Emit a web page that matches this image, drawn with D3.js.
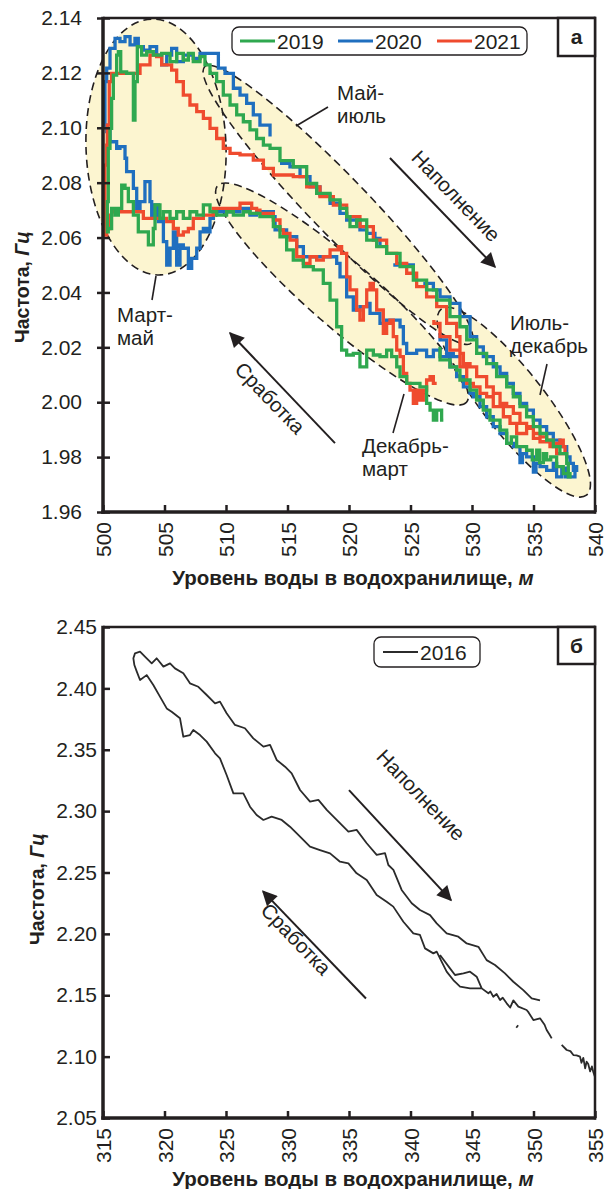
<!DOCTYPE html>
<html><head><meta charset="utf-8">
<script src="https://cdn.jsdelivr.net/npm/d3@7"></script>
<style>
body{margin:0;background:#fff;}
svg{display:block;}
</style></head><body>
<svg id="chart" width="606" height="1189"></svg>
<script>
// ---------------- DATA ----------------
const yearsA = ["2019", "2020", "2021"];
const yearB = "2016";
const xTicksA = [500, 505, 510, 515, 520, 525, 530, 535, 540];
const yTicksA = [1.96, 1.98, 2.00, 2.02, 2.04, 2.06, 2.08, 2.10, 2.12, 2.14];
const xTicksB = [315, 320, 325, 330, 335, 340, 345, 350, 355];
const yTicksB = [2.05, 2.10, 2.15, 2.20, 2.25, 2.30, 2.35, 2.40, 2.45];

// [water level (m), frequency (Hz)]; null = gap in record
const series2019 = [
[527.67,1.9935],[527.53,1.9971],[527.13,1.9935],[526.86,1.9971],[526.59,1.9996],[526.31,2.0056],[525.77,2.0069],[525.23,2.0069],[524.69,2.0093],[524.15,2.0129],[523.88,2.0166],[523.47,2.0190],[523.06,2.0166],[522.52,2.0172],[521.98,2.0190],[521.44,2.0129],[520.89,2.0178],[520.35,2.0172],[519.81,2.0190],[519.40,2.0275],[519.00,2.0372],[518.46,2.0433],[517.91,2.0482],[517.10,2.0494],[516.29,2.0518],[515.47,2.0555],[514.93,2.0603],[514.39,2.0640],[513.85,2.0676],[512.76,2.0688],[511.95,2.0694],[511.41,2.0682],[510.60,2.0694],[510.05,2.0682],[509.24,2.0694],[508.70,2.0719],[508.16,2.0682],[507.62,2.0694],[507.07,2.0670],[506.53,2.0694],[505.99,2.0670],[505.45,2.0694],[504.91,2.0670],[504.63,2.0719],[504.23,2.0633],[504.09,2.0573],[503.69,2.0621],[503.28,2.0621],[502.87,2.0682],[502.47,2.0731],[502.06,2.0779],[501.79,2.0791],[501.52,2.0706],[501.25,2.0682],[500.98,2.0706],[500.70,2.0633],[500.43,2.0621],[500.35,2.0731],[500.43,2.0925],[500.57,2.0998],[500.70,2.1107],[500.84,2.1192],[501.11,2.1265],[501.25,2.1277],[501.44,2.1204],[501.92,2.1198],[502.33,2.1198],[502.47,2.1028],[502.60,2.1168],[502.79,2.1296],[503.14,2.1265],[503.55,2.1277],[504.09,2.1265],[504.77,2.1271],[505.45,2.1241],[505.99,2.1271],[506.53,2.1247],[506.94,2.1271],[507.34,2.1241],[507.89,2.1259],[508.29,2.1229],[508.70,2.1198],[509.24,2.1168],[509.78,2.1119],[510.33,2.1083],[510.87,2.1047],[511.41,2.1022],[511.95,2.0992],[512.49,2.0961],[513.04,2.0937],[513.58,2.0925],[514.39,2.0880],[515.47,2.0858],[516.56,2.0797],[517.37,2.0761],[518.46,2.0737],[519.27,2.0706],[519.81,2.0676],[520.08,2.0640],[520.62,2.0664],[521.44,2.0591],[522.25,2.0567],[523.06,2.0542],[524.15,2.0494],[525.23,2.0445],[526.31,2.0409],[527.13,2.0372],[528.21,2.0312],[529.02,2.0275],[529.57,2.0227],[530.38,2.0178],[531.19,2.0141],[532.00,2.0093],[532.82,2.0056],[533.36,2.0020],[533.90,1.9984],[534.44,1.9947],[534.99,1.9911],[535.53,1.9886],[536.07,1.9862],[536.61,1.9838],[537.15,1.9813],[537.70,1.9777],[537.83,1.9728],[537.97,1.9740],[537.42,1.9765],[536.88,1.9801],[536.40,1.9790],[536.07,1.9813],[535.80,1.9780],[535.50,1.9825],[535.26,1.9790],[534.90,1.9825],[534.44,1.9838],[533.63,1.9874],[533.20,1.9850],[532.82,1.9898],[532.28,1.9935],[531.46,1.9971],[530.92,2.0008],[530.38,2.0044],[529.84,2.0081],[529.02,2.0117],[528.75,2.0129],[528.21,2.0154],[527.40,2.0202]
];

const series2020 = [
[529.02,2.0166],[528.48,2.0178],[527.94,2.0166],[527.40,2.0190],[526.86,2.0166],[526.31,2.0190],[525.50,2.0178],[524.69,2.0214],[524.42,2.0275],[524.15,2.0299],[523.06,2.0287],[522.52,2.0324],[521.71,2.0360],[521.44,2.0348],[520.89,2.0336],[520.35,2.0384],[519.81,2.0457],[519.27,2.0506],[519.00,2.0530],[516.83,2.0530],[516.29,2.0567],[515.75,2.0603],[514.93,2.0628],[514.12,2.0628],[513.99,2.0676],[513.85,2.0694],[512.76,2.0694],[512.49,2.0682],[511.95,2.0706],[511.14,2.0694],[509.24,2.0694],[508.97,2.0670],[508.70,2.0621],[508.43,2.0633],[508.16,2.0621],[507.89,2.0561],[507.62,2.0524],[507.21,2.0488],[506.94,2.0561],[506.53,2.0573],[506.26,2.0500],[505.99,2.0621],[505.72,2.0561],[505.45,2.0500],[505.18,2.0585],[504.91,2.0658],[504.50,2.0719],[504.23,2.0670],[503.96,2.0731],[503.82,2.0804],[503.55,2.0804],[503.41,2.0731],[503.01,2.0706],[502.74,2.0779],[502.47,2.0840],[501.92,2.0889],[501.79,2.0931],[501.38,2.0925],[501.11,2.0949],[500.57,2.0986],[500.30,2.1010],[500.16,2.1168],[500.30,2.1217],[500.57,2.1289],[500.98,2.1326],[501.38,2.1314],[501.79,2.1332],[502.20,2.1302],[502.60,2.1326],[502.87,2.1296],[503.28,2.1283],[503.82,2.1296],[504.36,2.1265],[504.77,2.1229],[505.18,2.1265],[505.58,2.1289],[505.99,2.1241],[506.53,2.1265],[507.34,2.1253],[507.89,2.1271],[508.97,2.1271],[509.38,2.1217],[509.92,2.1198],[510.60,2.1144],[511.14,2.1119],[511.68,2.1089],[512.22,2.1047],[512.76,2.1010],[513.58,2.0968],
null,
[514.39,2.0870],[515.20,2.0858],[516.02,2.0822],[516.83,2.0785],[517.64,2.0755],[518.46,2.0725],[519.27,2.0688],[519.81,2.0664],[520.49,2.0664],[520.89,2.0628],[521.44,2.0615],[522.11,2.0597],[522.52,2.0573],
null,
[523.60,2.0500],[524.69,2.0500],[525.23,2.0470],
null,
[526.04,2.0433],[526.86,2.0409],[527.40,2.0384],[528.21,2.0360],[529.02,2.0312],[529.84,2.0239],[530.38,2.0202],[530.92,2.0166],[531.73,2.0129],[532.28,2.0105],[532.82,2.0069],[533.36,2.0032],[533.90,1.9996],[534.44,1.9971],[534.99,1.9935],[535.53,1.9911],[536.07,1.9886],[536.61,1.9862],[537.15,1.9838],[537.70,1.9801],[537.97,1.9777],[538.24,1.9752],[538.51,1.9765],[538.37,1.9728],[537.60,1.9760],[537.30,1.9728],[536.88,1.9777],[536.61,1.9752],[536.07,1.9765],[535.53,1.9777],[535.20,1.9745],[534.99,1.9801],[534.44,1.9813],[534.10,1.9780],[533.90,1.9838],[533.36,1.9850],[532.82,1.9886],[532.28,1.9911],[531.73,1.9947],[531.19,1.9984],[530.65,2.0020],[530.11,2.0032],[529.84,2.0056],[529.30,2.0093],[528.75,2.0129],[528.21,2.0166],[527.94,2.0227],[527.40,2.0251]
];

const series2021 = [
[527.13,2.0069],[526.86,2.0093],[526.59,2.0081],[526.31,2.0044],[526.04,2.0008],[525.77,2.0044],[525.50,1.9996],[525.23,2.0044],[524.96,2.0069],[524.69,2.0105],[524.42,2.0166],[524.15,2.0190],[523.88,2.0239],[523.60,2.0299],[523.33,2.0287],[523.06,2.0251],[522.79,2.0336],[522.25,2.0409],[521.98,2.0433],[521.71,2.0409],[521.44,2.0348],[521.17,2.0299],[520.89,2.0336],[520.62,2.0409],[520.08,2.0457],[519.81,2.0542],[519.40,2.0567],[519.13,2.0555],[518.46,2.0530],[517.91,2.0518],[517.37,2.0530],[516.83,2.0506],[516.29,2.0530],[515.75,2.0591],[515.20,2.0615],[514.66,2.0628],[514.39,2.0664],[513.85,2.0688],[512.76,2.0700],[512.49,2.0706],[512.09,2.0725],[511.41,2.0725],[511.14,2.0706],[509.51,2.0706],[508.97,2.0682],[508.16,2.0670],[507.34,2.0633],[506.94,2.0621],[506.53,2.0609],[506.12,2.0633],[505.72,2.0658],[505.18,2.0670],[504.09,2.0670],[503.28,2.0694],[501.38,2.0694],[500.70,2.0682],[500.57,2.0633],[500.30,2.0609],[500.16,2.0682],[500.16,2.0864],[500.30,2.0937],[500.35,2.1010],[500.51,2.1168],[500.70,2.1198],[502.74,2.1198],[503.01,2.1229],[503.82,2.1265],[504.36,2.1259],[504.77,2.1229],[505.31,2.1229],[505.58,2.1210],[505.99,2.1168],[506.53,2.1119],[507.07,2.1083],[507.62,2.1059],[508.16,2.1034],[508.70,2.0998],[509.24,2.0961],[509.78,2.0925],[510.33,2.0907],[511.14,2.0901],[512.22,2.0882],[513.04,2.0852],[513.85,2.0828],[514.39,2.0828],[515.47,2.0822],[516.56,2.0785],[517.64,2.0749],[518.73,2.0718],[519.81,2.0676],[520.89,2.0640],[521.98,2.0591],[523.06,2.0542],[523.88,2.0506],[524.69,2.0470],[525.50,2.0421],[526.31,2.0384],[527.13,2.0348],[527.94,2.0287],[528.75,2.0239],[529.02,2.0178],[529.30,2.0141],[529.84,2.0129],[530.38,2.0093],[531.19,2.0056],[531.73,2.0032],[532.28,1.9996],[532.82,1.9984],[533.36,1.9959],[533.90,1.9923],[534.44,1.9911],[534.99,1.9886],[535.53,1.9874],[536.07,1.9862],[536.61,1.9850],[537.15,1.9862],[537.42,1.9838],[537.56,1.9813],[536.88,1.9838],[536.34,1.9856],[535.53,1.9868],[534.99,1.9905],[534.44,1.9886],[533.63,1.9923],[533.09,1.9947],[532.55,1.9984],[531.73,2.0020],[531.19,2.0032],[530.65,2.0056],[530.11,2.0069],[529.57,2.0129],[529.02,2.0190],[528.21,2.0239],[527.40,2.0287],[526.90,2.0300]
];

const series2016 = [
[355.00,2.0834],[354.86,2.0875],[354.75,2.0920],[354.60,2.0880],[354.45,2.0940],[354.32,2.0959],[354.20,2.0905],[354.05,2.0990],[353.90,2.0950],[353.78,2.1000],[353.50,2.1010],[353.24,2.1013],[353.00,2.1045],[352.70,2.1054],[352.29,2.1095],
null,
[351.48,2.1149],[351.30,2.1180],[351.07,2.1217],[350.90,2.1260],[350.53,2.1312],[349.99,2.1298],[349.60,2.1360],[349.44,2.1380],[348.77,2.1407],[348.36,2.1458],[348.10,2.1400],[347.82,2.1434],[347.50,2.1480],[347.28,2.1461],[347.00,2.1510],[346.73,2.1488],[346.50,2.1530],[346.33,2.1516],[345.79,2.1556],[344.84,2.1556],[344.03,2.1570],[343.48,2.1624],[342.94,2.1692],[342.53,2.1774],[342.13,2.1855],[341.86,2.1841],[341.18,2.1882],[340.77,2.1991],[340.23,2.2004],[339.42,2.2099],[338.60,2.2222],[338.06,2.2262],[337.25,2.2317],[336.44,2.2439],[335.62,2.2493],[334.95,2.2574],[334.27,2.2588],[333.46,2.2656],[332.64,2.2683],[331.83,2.2710],[331.02,2.2792],[330.20,2.2873],[329.53,2.2928],[328.71,2.2955],[328.04,2.2928],[327.49,2.2968],[326.95,2.3036],[326.41,2.3145],[325.60,2.3145],[325.05,2.3294],[324.51,2.3430],[324.11,2.3471],[323.43,2.3566],[322.89,2.3620],[322.34,2.3661],[322.07,2.3620],[321.53,2.3606],[321.26,2.3756],[320.58,2.3810],[320.18,2.3837],[319.63,2.3933],[319.09,2.4027],[318.55,2.4108],[318.01,2.4068],[317.74,2.4139],[317.55,2.4190],[317.47,2.4245],[317.60,2.4285],[318.01,2.4299],[318.41,2.4258],[318.96,2.4204],[319.36,2.4245],[319.91,2.4177],[320.45,2.4204],[320.85,2.4163],[321.53,2.4123],[322.07,2.4041],[322.75,2.4013],[323.43,2.3946],[324.11,2.3878],[324.51,2.3892],[325.05,2.3797],[325.73,2.3702],[326.54,2.3675],[327.22,2.3593],[328.04,2.3525],[328.58,2.3539],[329.12,2.3417],[329.80,2.3362],[330.34,2.3308],[331.02,2.3172],[331.83,2.3078],[332.51,2.3092],[333.19,2.3010],[334.00,2.2928],[334.95,2.2833],[335.62,2.2847],[336.44,2.2738],[337.25,2.2643],[337.93,2.2657],[338.20,2.2561],[338.61,2.2521],[339.28,2.2358],[340.10,2.2249],[340.77,2.2194],[341.59,2.2153],[342.13,2.2086],[342.94,2.2004],[343.89,2.1977],[344.57,2.1922],[345.52,2.1895],[346.19,2.1786],[346.87,2.1746],[347.68,2.1678],[348.36,2.1610],[349.17,2.1542],[349.85,2.1474],[350.53,2.1458],
null,
[342.40,2.1828],[343.21,2.1719],[343.62,2.1665],[344.30,2.1678],[344.84,2.1692],[345.38,2.1651],[345.79,2.1556],
null,
[348.60,2.1235],[348.75,2.1255]
];

// ---------------- STYLE / LAYOUT ----------------
const FONT = '"Liberation Sans", Arial, Helvetica, sans-serif';
const INK = "#231f20";
const colorsA = {"2019": "#2fa84f", "2020": "#1f6fbf", "2021": "#ef4b2e"};
const seriesA = {"2019": series2019, "2020": series2020, "2021": series2021};
const FILL = "#fcf5d0";

const svg = d3.select("#chart").style("font-family", FONT);
svg.append("rect").attr("width", 606).attr("height", 1189).attr("fill", "#fff");

const defs = svg.append("defs");
defs.append("marker").attr("id", "ah").attr("viewBox", "0 0 10 10")
  .attr("refX", 9).attr("refY", 5).attr("markerUnits", "userSpaceOnUse")
  .attr("markerWidth", 20).attr("markerHeight", 15).attr("orient", "auto")
  .append("path").attr("d", "M0,0 L10,5 L0,10 Z").attr("fill", INK);

function drawAxes(g, x, y, xt, yt, o) {
  const [x0, x1] = x.range();
  const [yb, yt0] = y.range();
  const ga = g.append("g").attr("transform", `translate(${x0},0)`)
    .call(d3.axisLeft(y).tickValues(yt).tickFormat(d3.format(".2f")).tickSize(o.yTickOut).tickPadding(o.yPad));
  ga.attr("font-family", FONT).attr("font-size", 21);
  ga.select(".domain").remove();
  ga.selectAll(".tick line").attr("x1", 7).attr("stroke", INK).attr("stroke-width", 2.5);
  ga.selectAll(".tick text").attr("fill", INK);
  const gx = g.append("g").attr("transform", `translate(0,${yb})`)
    .call(d3.axisBottom(x).tickValues(xt).tickSize(0).tickPadding(0));
  gx.attr("font-family", FONT).attr("font-size", 21);
  gx.select(".domain").remove();
  gx.selectAll(".tick line").attr("y2", -7).attr("stroke", INK).attr("stroke-width", 2.5);
  gx.selectAll(".tick text").attr("fill", INK).attr("transform", "rotate(-90)")
    .attr("text-anchor", "end").attr("x", -10).attr("y", 0).attr("dy", "0.36em");
  // frame
  g.append("line").attr("x1", x0).attr("x2", x1).attr("y1", yt0).attr("y2", yt0).attr("stroke", INK).attr("stroke-width", 2.5);
  g.append("line").attr("x1", x1).attr("x2", x1).attr("y1", yt0 - 1.2).attr("y2", yb + 1.5).attr("stroke", INK).attr("stroke-width", 2.5);
  g.append("line").attr("x1", x0).attr("x2", x0).attr("y1", yt0 - 1.2).attr("y2", yb + 1.8).attr("stroke", INK).attr("stroke-width", 3.5);
  g.append("line").attr("x1", x0 - 1.7).attr("x2", x1 + 1.2).attr("y1", yb).attr("y2", yb).attr("stroke", INK).attr("stroke-width", 3.5);
  // titles
  g.append("text").attr("x", (x0 + x1) / 2 + 4).attr("y", o.xTitleY).attr("text-anchor", "middle")
    .attr("font-size", 20.5).attr("font-weight", "bold").attr("fill", INK)
    .call(t => { t.append("tspan").text("Уровень воды в водохранилище, "); t.append("tspan").attr("font-style", "italic").text("м"); });
  g.append("text").attr("transform", `translate(${o.yTitleX},${o.yTitleC}) rotate(-90)`).attr("text-anchor", "middle")
    .attr("font-size", 19.5).attr("font-weight", "bold").attr("fill", INK)
    .call(t => { t.append("tspan").text("Частота, "); t.append("tspan").attr("font-style", "italic").text("Гц"); });
  // corner label box
  g.append("rect").attr("x", x1 - 37).attr("y", yt0).attr("width", 37).attr("height", o.boxH)
    .attr("fill", "#fff").attr("stroke", INK).attr("stroke-width", 2.5);
  g.append("text").attr("x", x1 - 18.5).attr("y", yt0 + o.boxH / 2).attr("dy", "0.35em").attr("text-anchor", "middle")
    .attr("font-size", 21).attr("font-weight", "bold").attr("fill", INK).text(o.label);
}

function arrow(g, p0, p1) {
  g.append("line").attr("x1", p0[0]).attr("y1", p0[1]).attr("x2", p1[0]).attr("y2", p1[1])
    .attr("stroke", INK).attr("stroke-width", 2).attr("marker-end", "url(#ah)");
}
function rotText(g, c, ang, txt) {
  g.append("text").attr("transform", `translate(${c[0]},${c[1]}) rotate(${ang})`).attr("text-anchor", "middle")
    .attr("dy", "0.35em").attr("font-size", 20.5).attr("fill", INK).text(txt);
}
function multiText(g, x, y, lines) {
  lines.forEach((s, i) => g.append("text").attr("x", x).attr("y", y + i * 23).attr("font-size", 20.5).attr("fill", INK).text(s));
}

// ================= PANEL A =================
const xA = d3.scaleLinear().domain([500, 540]).range([103, 595]);
const yA = d3.scaleLinear().domain([1.96, 2.14]).range([512, 18]);
const gA = svg.append("g");
const P = (L, f) => [xA(L), yA(f)];

// highlighted regions (centre in data units, radii px, rotation deg)
const regionsA = [
  {c: [504.31, 2.0930], rx: 70, ry: 128, rot: -2},
  {c: [519.11, 2.0719], rx: 192, ry: 29, rot: 46},
  {c: [519.43, 2.0394], rx: 165, ry: 33, rot: 41},
  {c: [533.40, 2.0000], rx: 118, ry: 31, rot: 52}
];
const gReg = gA.append("g");
regionsA.forEach(r => {
  const [cx, cy] = P(...r.c);
  gReg.append("ellipse").attr("transform", `translate(${cx},${cy}) rotate(${r.rot})`)
    .attr("rx", r.rx).attr("ry", r.ry).attr("fill", FILL);
});
regionsA.forEach(r => {
  const [cx, cy] = P(...r.c);
  gReg.append("ellipse").attr("transform", `translate(${cx},${cy}) rotate(${r.rot})`)
    .attr("rx", r.rx).attr("ry", r.ry).attr("fill", "none").attr("stroke", INK)
    .attr("stroke-width", 1.6).attr("stroke-dasharray", "8,5");
});

const lineA = d3.line().defined(d => d !== null).x(d => xA(d[0])).y(d => yA(d[1])).curve(d3.curveStepAfter);
const gLines = gA.append("g");
["2020", "2021", "2019"].forEach(k => {
  gLines.append("path").datum(seriesA[k]).attr("d", lineA).attr("fill", "none")
    .attr("stroke", colorsA[k]).attr("stroke-width", 3.3).attr("stroke-linejoin", "miter");
});

drawAxes(gA, xA, yA, xTicksA, yTicksA, {yTickOut: 6, yPad: 15, xTitleY: 585, yTitleX: 29, yTitleC: 287, boxH: 38, label: "а"});

// legend A
const legA = gA.append("g");
legA.append("rect").attr("x", 232).attr("y", 27).attr("width", 295).attr("height", 28).attr("rx", 7)
  .attr("fill", "#fff").attr("stroke", INK).attr("stroke-width", 1.3);
const legPos = [240, 338, 437];
yearsA.forEach((yr, i) => {
  legA.append("line").attr("x1", legPos[i]).attr("x2", legPos[i] + 35).attr("y1", 41).attr("y2", 41)
    .attr("stroke", colorsA[yr]).attr("stroke-width", 3);
  legA.append("text").attr("x", legPos[i] + 37).attr("y", 41).attr("dy", "0.36em").attr("font-size", 21)
    .attr("fill", INK).text(yr);
});

// annotations A
const annA = gA.append("g");
multiText(annA, 337, 100, ["Май-", "июль"]);
annA.append("line").attr("x1", 328).attr("y1", 107).attr("x2", 296).attr("y2", 126).attr("stroke", INK).attr("stroke-width", 1.6);
multiText(annA, 117, 322, ["Март-", "май"]);
annA.append("line").attr("x1", 152).attr("y1", 300).attr("x2", 156).attr("y2", 276).attr("stroke", INK).attr("stroke-width", 1.6);
multiText(annA, 362, 453, ["Декабрь-", "март"]);
annA.append("line").attr("x1", 393).attr("y1", 433).attr("x2", 404).attr("y2", 394).attr("stroke", INK).attr("stroke-width", 1.6);
multiText(annA, 510, 330, ["Июль-", "декабрь"]);
annA.append("line").attr("x1", 547).attr("y1", 364).attr("x2", 540).attr("y2", 395).attr("stroke", INK).attr("stroke-width", 1.6);
arrow(annA, P(523.33, 2.0890), P(531.87, 2.0493));
rotText(annA, [456, 196], 46, "Наполнение");
arrow(annA, P(518.86, 1.9851), P(510.33, 2.0252));
rotText(annA, [270, 398], 46, "Сработка");

// ================= PANEL B =================
const xB = d3.scaleLinear().domain([315, 355]).range([103, 595]);
const yB = d3.scaleLinear().domain([2.05, 2.45]).range([1118, 627]);
const gB = svg.append("g");
const Q = (L, f) => [xB(L), yB(f)];

const lineB = d3.line().defined(d => d !== null).x(d => xB(d[0])).y(d => yB(d[1]));
gB.append("path").datum(series2016).attr("d", lineB).attr("fill", "none")
  .attr("stroke", "#2b2b2b").attr("stroke-width", 1.8).attr("stroke-linejoin", "round");

drawAxes(gB, xB, yB, xTicksB, yTicksB, {yTickOut: 0, yPad: 6, xTitleY: 1186, yTitleX: 44, yTitleC: 889, boxH: 37, label: "б"});

const legB = gB.append("g");
legB.append("rect").attr("x", 374).attr("y", 637).attr("width", 106).attr("height", 30).attr("rx", 7)
  .attr("fill", "#fff").attr("stroke", INK).attr("stroke-width", 1.3);
legB.append("line").attr("x1", 383).attr("x2", 418).attr("y1", 652).attr("y2", 652).attr("stroke", "#2b2b2b").attr("stroke-width", 1.8);
legB.append("text").attr("x", 420).attr("y", 652).attr("dy", "0.36em").attr("font-size", 21).attr("fill", INK).text(yearB);

const annB = gB.append("g");
arrow(annB, Q(335.00, 2.3171), Q(343.29, 2.2275));
rotText(annB, [421, 795], 46, "Наполнение");
arrow(annB, Q(336.38, 2.1474), Q(328.01, 2.2346));
rotText(annB, [296, 939], 46, "Сработка");
</script>
</body></html>
